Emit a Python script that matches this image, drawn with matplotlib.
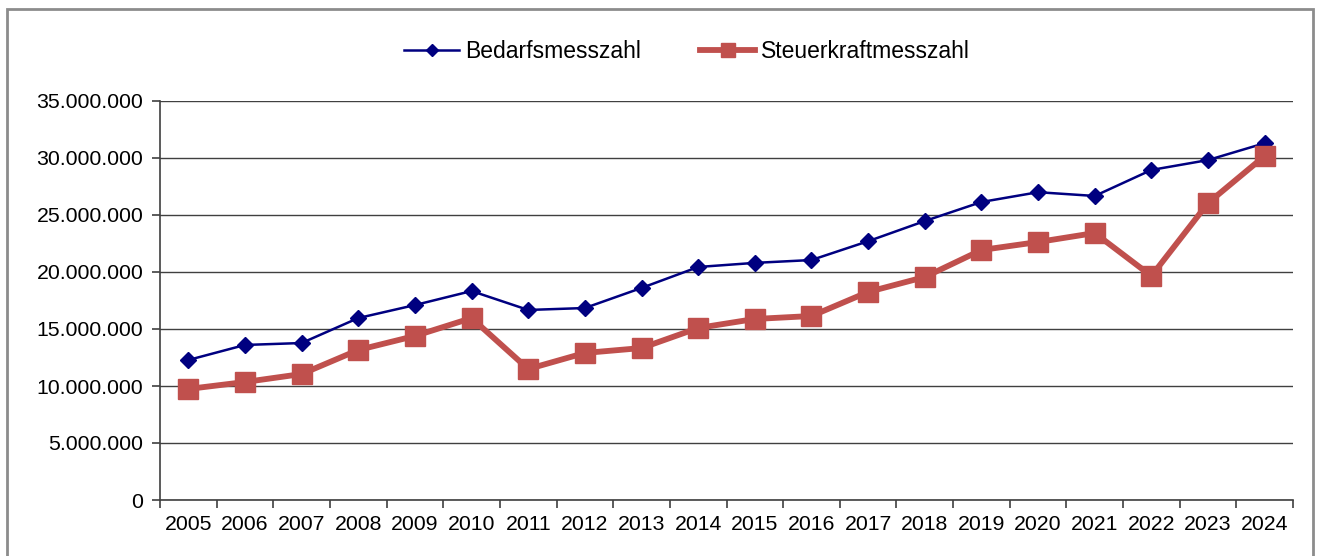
import numpy as np
import matplotlib
matplotlib.use("Agg")
from matplotlib import pyplot as plt
from matplotlib.ticker import FuncFormatter, FixedLocator
from matplotlib.patches import Rectangle

years = list(range(2005, 2025))
bedarf = [12.28e6, 13.6e6, 13.77e6, 15.96e6, 17.1e6, 18.33e6, 16.67e6, 16.84e6,
          18.6e6, 20.44e6, 20.8e6, 21.05e6, 22.7e6, 24.47e6, 26.14e6, 27.0e6,
          26.67e6, 28.95e6, 29.82e6, 31.3e6]
steuer = [9.74e6, 10.35e6, 11.05e6, 13.16e6, 14.39e6, 15.96e6, 11.49e6, 12.9e6,
          13.33e6, 15.09e6, 15.88e6, 16.14e6, 18.25e6, 19.56e6, 21.93e6, 22.63e6,
          23.42e6, 19.65e6, 26.05e6, 30.18e6]

plt.rcParams["font.family"] = ["Liberation Sans", "DejaVu Sans"]

fig = plt.figure(figsize=(13.17, 5.56), dpi=100)
ax = fig.add_axes([160 / 1317, 1 - 500 / 556, 1133 / 1317, 399 / 556])

# outer frame
fig.patches.append(Rectangle((7 / 1317, -0.01), 1306 / 1317, 1 - 9 / 556 + 0.01,
                             transform=fig.transFigure, fill=False,
                             edgecolor="#8c8c8c", linewidth=2))

x = np.arange(len(years))
ax.plot(x, bedarf, color="#000080", linewidth=1.8, marker="D", markersize=8.5,
        label="Bedarfsmesszahl")
ax.plot(x, steuer, color="#C0504D", linewidth=4.2, marker="s", markersize=15,
        label="Steuerkraftmesszahl")

ax.set_xlim(-0.5, len(years) - 0.5)
ax.set_ylim(0, 35e6)
ax.set_yticks(np.arange(0, 35e6 + 1, 5e6))
ax.yaxis.set_major_formatter(FuncFormatter(lambda v, p: f"{int(v):,}".replace(",", ".")))
ax.xaxis.set_major_locator(FixedLocator(np.arange(-0.5, len(years), 1)))
ax.xaxis.set_minor_locator(FixedLocator(x))
ax.set_xticklabels([])
ax.set_xticklabels([str(y) for y in years], minor=True)
ax.tick_params(axis="x", which="major", length=6, width=1.2, color="#404040", direction="out")
ax.tick_params(axis="x", which="minor", length=0, labelsize=15.3, pad=11)
ax.tick_params(axis="y", length=6, width=1.2, color="#404040", labelsize=15.3, pad=6)

ax.grid(axis="y", color="#404040", linewidth=1)
ax.set_axisbelow(True)
for s in ["top", "right"]:
    ax.spines[s].set_visible(False)
for s in ["left", "bottom"]:
    ax.spines[s].set_color("#404040")
    ax.spines[s].set_linewidth(1.2)

fig.legend(loc="center", bbox_to_anchor=(687 / 1317, 1 - 52 / 556), ncol=2,
           frameon=False, fontsize=16.5, handlelength=2.4, columnspacing=2.6,
           handletextpad=0.25, markerscale=0.7)

fig.savefig("out.png", dpi=100)
